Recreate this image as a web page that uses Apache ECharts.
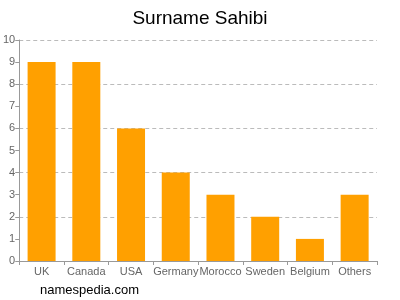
<!DOCTYPE html>
<html><head><meta charset="utf-8">
<script src="https://cdn.jsdelivr.net/npm/echarts@6/dist/echarts.min.js"></script>
<style>html,body{margin:0;padding:0;background:#fff}#c{width:400px;height:300px}</style>
</head><body><div id="c"></div>
<script>
const categories = ["UK","Canada","USA","Germany","Morocco","Sweden","Belgium","Others"];
const values = [9,9,6,4,3,2,1,3];
const chart = echarts.init(document.getElementById('c'), null, {renderer:'canvas'});
chart.setOption({
  animation:false,
  title:{text:'Surname Sahibi',left:'center',top:4,textStyle:{fontFamily:'Liberation Sans, Arial',fontSize:19,fontWeight:'normal',color:'#000'}},
  graphic:[{type:'text',left:40,top:284,style:{text:'namespedia.com',fontFamily:'Liberation Sans, Arial',fontSize:13,fill:'#000'}}],
  grid:{left:17,right:23,top:40,bottom:39},
  xAxis:{type:'category',data:categories,
    axisLine:{lineStyle:{color:'#999'}},
    axisTick:{show:true,alignWithLabel:false,length:4,lineStyle:{color:'#999'}},
    axisLabel:{color:'#666',fontFamily:'Liberation Sans, Arial',fontSize:11,interval:0,margin:5}},
  yAxis:[{type:'value',min:0,max:10,interval:1,
    axisLine:{show:true,lineStyle:{color:'#999'}},
    axisTick:{show:true,length:4,lineStyle:{color:'#999'}},
    axisLabel:{color:'#666',fontFamily:'Liberation Sans, Arial',fontSize:11,margin:4},
    splitLine:{show:false}},
   {type:'value',min:0,max:10,interval:2,position:'left',
    axisLine:{show:false},axisTick:{show:false},axisLabel:{show:false},
    splitLine:{show:true,lineStyle:{color:'#bbb',type:[4,3]}}}],
  series:[{type:'bar',data:values,barWidth:28,itemStyle:{color:'#FFA000'},yAxisIndex:0}]
});
</script></body></html>
